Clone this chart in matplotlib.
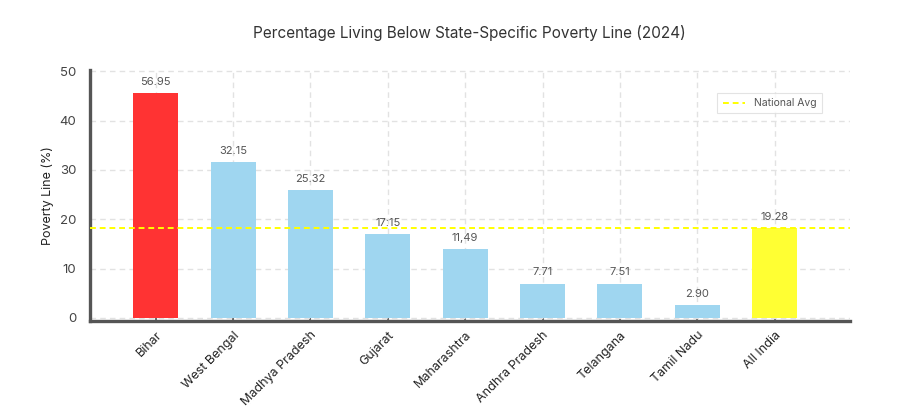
import matplotlib.pyplot as plt
import numpy as np

plt.rcParams['font.family'] = ['Inter', 'DejaVu Sans']

# data
states = ['Bihar', 'West Bengal', 'Madhya Pradesh', 'Gujarat', 'Maharashtra',
          'Andhra Pradesh', 'Telangana', 'Tamil Nadu', 'All India']
bar_heights = [45.5, 31.6, 25.9, 17.0, 13.9, 6.9, 6.9, 2.6, 18.2]
bar_labels = ['56.95', '32.15', '25.32', '17:15', '11,49', '7.71', '7.51', '2.90', '19.28']
national_avg = 18.2
colors = ['#ff3333'] + ['#9fd6f0'] * 7 + ['#ffff33']

fig = plt.figure(figsize=(9, 4.13), dpi=100)
ax = fig.add_axes([0.1, 0.223, 0.844, 0.607])

x = np.arange(len(states))
bars = ax.bar(x, bar_heights, width=0.58, color=colors, zorder=2)

for b, lab in zip(bars, bar_labels):
    ax.text(b.get_x() + b.get_width() / 2, b.get_height() + 1.3, lab,
            ha='center', va='bottom', fontsize=8, color='#555555', zorder=3)

ax.axhline(national_avg, color='#ffff00', linestyle='--', linewidth=1.4,
           dashes=(3, 2), label='National Avg', zorder=3, clip_on=False)

ax.set_xlim(-0.85, 8.97)
ax.set_ylim(-0.6, 50.2)
ax.set_yticks([0, 10, 20, 30, 40, 50])
ax.set_xticks(x)
ax.set_xticklabels(states, rotation=45, ha='right', rotation_mode='anchor',
                   fontsize=9, color='#222222')
ax.tick_params(axis='x', direction='in', length=4, width=1.2, color='#555555', pad=6)
ax.tick_params(axis='y', length=0, labelsize=9.5, labelcolor='#444444', pad=10)

ax.grid(True, linestyle='--', color='#e2e2e2', linewidth=1, dashes=(4, 3), zorder=0)
ax.set_axisbelow(True)

for side in ['top', 'right']:
    ax.spines[side].set_visible(False)
for side in ['left', 'bottom']:
    ax.spines[side].set_color('#555555')
    ax.spines[side].set_linewidth(2.4)

ax.set_ylabel('Poverty Line (%)', fontsize=9, color='#222222')
ax.set_title('Percentage Living Below State-Specific Poverty Line (2024)',
             fontsize=11, color='#333333', pad=23)

leg = ax.legend(loc='upper right', bbox_to_anchor=(0.97, 0.93), fontsize=7.5,
                frameon=True, fancybox=False, handlelength=2.2, borderpad=0.5)
leg.get_frame().set_edgecolor('#dddddd')
leg.get_frame().set_linewidth(0.8)
for t in leg.get_texts():
    t.set_color('#555555')

fig.savefig('out.png', dpi=100)
